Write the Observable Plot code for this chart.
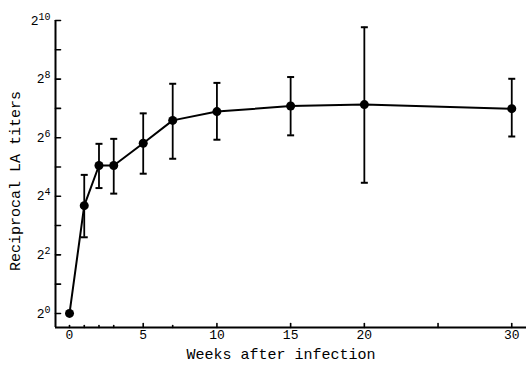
<!DOCTYPE html>
<html><head><meta charset="utf-8">
<script src="https://cdn.jsdelivr.net/npm/d3@7"></script>
<script src="https://cdn.jsdelivr.net/npm/@observablehq/plot@0.6"></script>
<style>body{margin:0;background:#fff}</style>
</head><body><div id="chart"></div>
<script>
const weeks = [0, 1, 2, 3, 5, 7, 10, 15, 20, 30];
const log2Titer = [0, 3.68, 5.05, 5.05, 5.81, 6.59, 6.89, 7.08, 7.13, 6.99];
const log2Upper = [null, 4.73, 5.79, 5.96, 6.83, 7.84, 7.87, 8.07, 9.77, 8.01];
const log2Lower = [null, 2.60, 4.28, 4.09, 4.77, 5.28, 5.93, 6.08, 4.46, 6.04];
const xMajorTicks = [5, 10, 15, 20, 25, 30];
const xMinorTicks = [0, 1, 2, 3, 7];
const xLabelTicks = [0, 5, 10, 15, 20, 30];
const yTicks = [0, 1, 2, 3, 4, 5, 6, 7, 8, 9, 10];
const yLabelTicks = [0, 2, 4, 6, 8, 10];
const yTickLabels = ["2⁰", "2²", "2⁴", "2⁶", "2⁸", "2¹⁰"];
const yTickExponents = ["0", "2", "4", "6", "8", "10"];
const xTitle = "Weeks after infection";
const yTitle = "Reciprocal LA titers";
const xDomain = [-0.95, 31];
const yDomain = [-0.48, 10];

const data = weeks.map((w, i) => ({w, v: log2Titer[i], hi: log2Upper[i], lo: log2Lower[i]}));
const bars = data.filter(d => d.hi != null);
const capSymbol = {draw(ctx) { ctx.moveTo(-3.5, 0); ctx.lineTo(3.5, 0); }};
const tickShape = {draw(ctx, l) { ctx.moveTo(0, 0); ctx.lineTo(0, -l); }};
const ink = "#000";

const chart = Plot.plot({
  width: 526, height: 369,
  marginLeft: 55, marginRight: 0, marginTop: 20, marginBottom: 42,
  style: {fontFamily: "'Liberation Mono', monospace", fontSize: "13px", color: ink, background: "#fff"},
  x: {domain: xDomain, axis: null},
  y: {domain: yDomain, axis: null},
  marks: [
    Plot.ruleX([xDomain[0]], {stroke: ink, strokeWidth: 2}),
    Plot.ruleY([yDomain[0]], {stroke: ink, strokeWidth: 2}),
    Plot.vector(yTicks, {y: d => d, frameAnchor: "left", rotate: 90, length: 5, anchor: "start", shape: tickShape, stroke: ink, strokeWidth: 1.6}),
    Plot.vector(xMajorTicks, {x: d => d, frameAnchor: "bottom", length: 4, anchor: "start", shape: tickShape, stroke: ink, strokeWidth: 1.6}),
    Plot.vector(xMinorTicks, {x: d => d, frameAnchor: "bottom", length: 2, anchor: "start", shape: tickShape, stroke: ink, strokeWidth: 1.6}),
    Plot.text(yLabelTicks, {y: d => d, frameAnchor: "left", text: (d, i) => yTickLabels[i], textAnchor: "end", dx: -5, fontSize: 13, fill: ink}),
    Plot.text(xLabelTicks, {x: d => d, frameAnchor: "bottom", text: d => String(d), dy: 11, fontSize: 13, fill: ink}),
    Plot.text([xTitle], {frameAnchor: "bottom", dx: -10, dy: 31, fontSize: 15, fill: ink}),
    Plot.text([yTitle], {frameAnchor: "left", textAnchor: "middle", dx: -40, dy: 7, rotate: -90, fontSize: 15, fill: ink}),
    Plot.ruleX(bars, {x: "w", y1: "lo", y2: "hi", stroke: ink, strokeWidth: 1.8}),
    Plot.dot(bars, {x: "w", y: "hi", symbol: capSymbol, stroke: ink, strokeWidth: 2}),
    Plot.dot(bars, {x: "w", y: "lo", symbol: capSymbol, stroke: ink, strokeWidth: 2}),
    Plot.line(data, {x: "w", y: "v", stroke: ink, strokeWidth: 2}),
    Plot.dot(data, {x: "w", y: "v", r: 4.5, fill: ink, stroke: "none"})
  ]
});

// render exponents as raised tspans
chart.querySelectorAll("text").forEach(t => {
  const i = yTickLabels.indexOf(t.textContent.trim());
  if (i < 0) return;
  t.textContent = "2";
  const sup = document.createElementNS("http://www.w3.org/2000/svg", "tspan");
  sup.setAttribute("dy", "-5");
  sup.setAttribute("font-size", "10");
  sup.textContent = yTickExponents[i];
  t.appendChild(sup);
});
document.getElementById("chart").appendChild(chart);
</script>
</body></html>
